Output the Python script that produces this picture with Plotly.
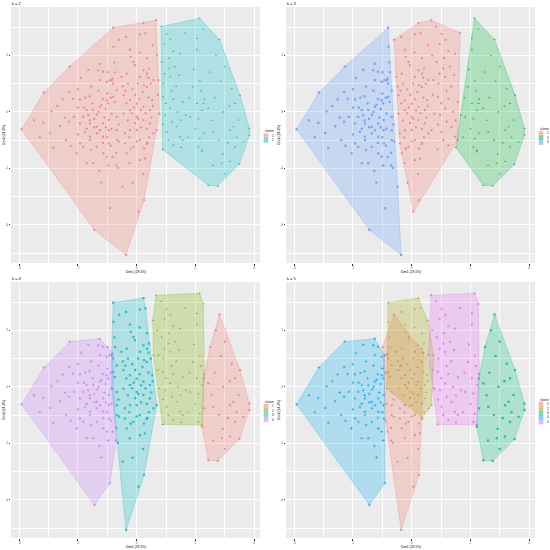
import plotly.graph_objects as go

W = 550

# Dim1 / Dim2 coordinates of the observations, grouped by the cluster labels they get
# for k = 2, 3, 4, 5 (label tuple given in group_labels)
grp_A = [(-3.92, -0.62), (-3.16, 0.68), (-2.28, 1.60), (-1.26, 1.70), (-0.93, 1.12), (-0.91, -3.41), (-1.44, -4.18),
         (-3.18, -0.39), (-2.90, 0.02), (-2.84, -1.27), (-2.61, -0.51), (-2.52, 0.44), (-2.18, 0.46), (-1.93, 0.44),
         (-2.14, -0.18), (-2.05, -1.47), (-1.93, -1.12), (-1.70, -1.82), (-1.48, -1.82), (-1.27, -2.09), (-1.65, -0.12),
         (-1.76, -0.71), (-1.59, -1.00), (-1.36, -1.24), (-1.14, -1.47), (-1.65, 1.49), (-1.31, 1.47), (-1.25, 1.12),
         (-1.02, 1.06), (-1.02, 0.41), (-1.25, 0.18), (-1.48, 0.06), (-1.70, 0.06), (-1.82, -0.18), (-1.93, -0.41),
         (-1.59, -0.41), (-1.36, -0.53), (-1.14, -0.41), (-0.95, -0.29), (-0.95, -1.12), (-1.14, -0.88), (-1.36, -0.76),
         (-1.02, -1.59), (-1.59, -0.88), (-1.82, -1.24), (-0.96, -0.65), (-1.50, 0.30), (-1.20, 0.25), (-1.05, 0.10),
         (-1.35, -0.10), (-1.10, -0.20), (-0.97, 0.30), (-1.60, -0.30), (-1.25, -0.65), (-1.00, -0.90), (-1.75, 0.50),
         (-2.00, 0.15), (-2.30, -0.35), (-2.40, -1.00), (-1.55, -1.35), (-1.15, -1.10), (-1.00, 0.65), (-1.30, 0.75),
         (-1.55, 0.90), (-1.90, 1.20), (-1.15, 1.42), (-0.97, -1.90), (-1.20, -2.50), (-3.50, -0.30), (-3.30, -0.90),
         (-2.95, -0.75), (-2.70, 0.20), (-2.45, -0.20), (-2.30, 0.70), (-2.00, 0.80), (-1.80, 0.15), (-1.60, 0.55),
         (-1.45, -0.25), (-1.30, 0.00), (-1.15, 0.45), (-1.05, -0.55), (-1.45, -0.55), (-1.70, -0.60), (-2.00, -0.80),
         (-2.25, -1.20)]
grp_A2 = [(-0.99, 1.40), (-0.82, 1.18), (-0.82, -1.59), (-0.70, -1.90), (-0.88, 0.50), (-0.86, -0.60), (-0.88, -1.20)]
grp_B = [(-0.36, -5.06), (-0.48, -2.65), (-0.85, 1.12), (-0.64, -1.98), (-0.60, -1.05), (-0.68, -0.65), (-0.68, -1.00),
         (-0.70, -1.45), (-0.62, -0.45), (-0.75, 0.35), (-0.80, 1.00)]
grp_C = [(-0.80, 2.98), (-0.85, -0.06), (-0.68, 0.76), (-0.80, 0.53), (-0.68, -0.18), (-0.79, 2.30), (-0.76, 1.75),
         (-0.74, 1.40)]
grp_D = [(-0.60, 2.55), (0.25, -3.12), (0.06, -3.53), (-0.14, -2.51), (0.34, -1.14), (0.40, 1.21), (-0.40, -1.12),
         (0.11, -1.00), (-0.11, -1.24), (-0.34, -1.47), (-0.40, -0.76), (-0.23, -0.65), (0.11, -1.71), (-0.24, -1.82),
         (-0.25, -0.90), (0.00, -1.05), (0.25, -1.30), (-0.20, -1.30), (0.28, -1.65), (0.22, -2.20), (-0.11, 1.76),
         (0.11, 1.24), (0.34, 0.88), (-0.23, 0.41), (0.23, 0.18), (-0.23, 0.06), (0.23, -0.29), (0.00, -0.65),
         (-0.30, 1.00), (0.20, 0.70), (-0.10, 0.15), (0.30, -0.05), (-0.05, -0.40), (0.35, -0.60), (-0.05, 0.60),
         (-0.38, 0.75), (-0.15, -0.05), (-0.52, 1.24)]
grp_E = [(0.23, 3.14), (-0.36, 2.65), (0.11, 2.74), (-0.23, 2.20), (0.30, 2.78), (0.68, -0.65), (0.36, -1.10),
         (-0.47, 0.90), (0.42, 1.53), (0.48, 1.00), (0.53, 0.41), (0.45, 0.06), (0.45, -0.41), (0.57, -0.76),
         (0.42, -0.90), (0.50, -0.20), (0.55, 0.20), (0.40, 0.50), (-0.34, 1.35), (0.23, 1.47), (-0.06, 1.65),
         (-0.45, 0.59), (0.00, 0.29), (0.00, -0.18), (-0.15, 0.80), (0.05, 1.00), (-0.35, 0.30), (0.10, 0.45),
         (-0.30, -0.30), (0.15, -0.55), (-0.20, 1.95), (0.10, 2.10), (0.35, 1.90), (0.25, 0.95), (0.05, -0.25),
         (0.15, 0.05), (0.35, 1.35), (-0.45, -0.06)]
grp_F = [(0.66, 3.24), (0.77, -0.06), (0.57, 1.12), (0.70, 2.00), (0.72, 0.60)]
grp_FF = [(0.55, 2.35), (0.74, 1.12)]
grp_G = [(0.83, 3.02), (0.88, -1.33), (1.65, 2.79), (1.57, -1.00), (1.02, 2.76), (0.85, 1.76), (1.08, 1.53),
         (1.25, 2.15), (1.48, 2.06), (1.14, 1.24), (0.91, 1.00), (1.19, 0.74), (1.57, 0.35), (1.14, 0.12),
         (0.89, 0.53), (0.97, -0.12), (1.08, -1.00), (1.48, -0.88), (1.25, -1.18), (1.36, -0.53), (1.02, -0.71),
         (0.95, 2.40), (1.10, 1.90), (1.30, 1.60), (1.45, 1.30), (1.00, 0.30), (1.25, 0.45), (1.40, 0.00),
         (1.20, -0.35), (0.90, -0.45), (1.50, -0.30), (1.35, 0.90), (0.95, 1.35), (1.15, 2.55)]
grp_H = [(2.14, 3.31), (2.27, 2.94), (1.51, -1.26), (1.67, -0.12), (2.22, -1.35), (2.30, 0.45), (1.91, 0.88),
         (1.82, -0.18), (2.10, -0.24), (2.10, -1.24), (2.22, 0.06), (2.19, 0.74), (2.05, 2.60), (2.05, 2.20),
         (1.95, 1.50), (2.15, 1.10), (1.80, 0.50), (2.00, -0.60), (1.75, -0.90), (2.15, -0.95), (2.05, 0.30)]
grp_I = [(2.82, 2.56), (3.52, 0.59), (3.84, -0.59), (3.84, -0.82), (3.50, -1.85), (2.76, -2.62), (2.44, -2.60),
         (2.22, -1.41), (2.28, 0.30), (2.50, 1.41), (2.86, 1.09), (3.24, 0.82), (3.16, 0.20), (2.61, -0.71),
         (3.18, -0.65), (3.47, -0.29), (3.64, -1.06), (3.35, -1.24), (2.93, -1.49), (2.90, -1.82), (3.18, -1.76),
         (3.30, -0.53), (2.44, 0.12), (2.30, -0.76), (2.70, 2.00), (3.00, 1.60), (2.65, 0.50), (2.95, 0.00),
         (3.35, 0.30), (2.55, -0.30), (2.80, -1.00), (3.10, -1.10), (3.40, -0.90), (2.60, -1.90), (3.00, -2.20)]

# cluster label of each group for k = 2, 3, 4, 5
group_labels = {
    "A": (1, 3, 4, 4), "A2": (1, 3, 4, 1), "B": (1, 3, 3, 1), "C": (1, 3, 3, 2),
    "D": (1, 1, 3, 1), "E": (1, 1, 3, 2), "F": (1, 1, 2, 5), "FF": (1, 1, 2, 2),
    "G": (2, 1, 2, 5), "H": (2, 2, 2, 5), "I": (2, 2, 1, 3),
}
groups = {"A": grp_A, "A2": grp_A2, "B": grp_B, "C": grp_C, "D": grp_D, "E": grp_E,
          "F": grp_F, "FF": grp_FF, "G": grp_G, "H": grp_H, "I": grp_I}

k_values = [2, 3, 4, 5]
panel_titles = ["k = 2", "k = 3", "k = 4", "k = 5"]
palettes = {
    2: ["#F8766D", "#00BFC4"],
    3: ["#F8766D", "#00BA38", "#619CFF"],
    4: ["#F8766D", "#7CAE00", "#00BFC4", "#C77CFF"],
    5: ["#F8766D", "#A3A500", "#00BF7D", "#00B0F6", "#E76BF3"],
}
symbols = ["circle", "triangle-up", "square", "cross", "x"]
x_ticks = [-4, -2, 0, 2, 4]
y_ticks = [-4, -2, 0, 2]
x_label = "Dim1 (29.1%)"
y_label = "Dim2 (14.3%)"


def rgba(hexc, a):
    h = hexc.lstrip("#")
    return f"rgba({int(h[0:2],16)},{int(h[2:4],16)},{int(h[4:6],16)},{a})"


def hull(pts):
    pts = sorted(set(pts))
    if len(pts) < 3:
        return pts

    def cross(o, a, b):
        return (a[0] - o[0]) * (b[1] - o[1]) - (a[1] - o[1]) * (b[0] - o[0])

    lower, upper = [], []
    for p in pts:
        while len(lower) >= 2 and cross(lower[-2], lower[-1], p) <= 0:
            lower.pop()
        lower.append(p)
    for p in reversed(pts):
        while len(upper) >= 2 and cross(upper[-2], upper[-1], p) <= 0:
            upper.pop()
        upper.append(p)
    return lower[:-1] + upper[:-1]


fig = go.Figure()
annotations = []
shapes = []
layout = {}
FONT = "Liberation Sans"

for i, k in enumerate(k_values):
    col, row = i % 2, i // 2
    ox, oy = col * 275, row * 275
    sfx = "" if i == 0 else str(i + 1)
    xref, yref = "x" + sfx, "y" + sfx
    cols = palettes[k]
    ki = k_values.index(k)

    clusters = {c: [] for c in range(1, k + 1)}
    for g, pts in groups.items():
        clusters[group_labels[g][ki]].extend(pts)

    # points
    for c in range(1, k + 1):
        pts = clusters[c]
        fig.add_trace(go.Scatter(
            x=[p[0] for p in pts], y=[p[1] for p in pts], mode="markers",
            marker=dict(color=cols[c - 1], size=2.2, opacity=0.85, symbol=symbols[c - 1], line=dict(width=0)),
            xaxis=xref, yaxis=yref, showlegend=False, hoverinfo="skip"))
    # convex hull frames
    for c in range(1, k + 1):
        h = hull(clusters[c])
        fig.add_trace(go.Scatter(
            x=[p[0] for p in h] + [h[0][0]], y=[p[1] for p in h] + [h[0][1]],
            mode="lines", fill="toself", fillcolor=rgba(cols[c - 1], 0.25),
            line=dict(color=rgba(cols[c - 1], 0.55), width=0.5),
            xaxis=xref, yaxis=yref, showlegend=False, hoverinfo="skip"))

    axis_common = dict(showline=False, zeroline=False, gridcolor="white", gridwidth=0.7,
                       ticks="outside", ticklen=1.5, tickwidth=0.4, tickcolor="#333333",
                       tickfont=dict(size=3, color="#4D4D4D", family=FONT))
    layout["xaxis" + sfx] = dict(
        domain=[(ox + 11) / W, (ox + 260) / W], range=[-4.28, 4.20], anchor=yref,
        tickmode="array", tickvals=x_ticks, ticktext=[str(v) for v in x_ticks],
        minor=dict(tickvals=[-3, -1, 1, 3], showgrid=True, gridcolor="white", gridwidth=0.35, ticks=""),
        **axis_common)
    layout["yaxis" + sfx] = dict(
        domain=[1 - (oy + 263) / W, 1 - (oy + 7) / W], range=[-5.35, 3.71], anchor=xref,
        tickmode="array", tickvals=y_ticks, ticktext=[str(v) for v in y_ticks],
        minor=dict(tickvals=[-5, -3, -1, 1, 3], showgrid=True, gridcolor="white", gridwidth=0.35, ticks=""),
        **axis_common)

    # panel title
    annotations.append(dict(text=panel_titles[i], x=(ox + 10) / W, y=1 - (oy + 3) / W,
                            xref="paper", yref="paper", xanchor="left", yanchor="middle",
                            showarrow=False, font=dict(size=4, color="black", family=FONT)))
    # axis titles
    annotations.append(dict(text=x_label, x=(ox + 135.5) / W, y=1 - (oy + 271.5) / W,
                            xref="paper", yref="paper", xanchor="center", yanchor="middle",
                            showarrow=False, font=dict(size=3.3, color="black", family=FONT)))
    annotations.append(dict(text=y_label, x=(ox + 4) / W, y=1 - (oy + 135) / W, textangle=-90,
                            xref="paper", yref="paper", xanchor="center", yanchor="middle",
                            showarrow=False, font=dict(size=3.3, color="black", family=FONT)))
    # legend
    step = 4.5
    first = oy + 138 - step * (k - 1) / 2
    annotations.append(dict(text="cluster", x=(ox + 263) / W, y=1 - (first - 4.5) / W,
                            xref="paper", yref="paper", xanchor="left", yanchor="middle",
                            showarrow=False, font=dict(size=3, color="black", family=FONT)))
    for c in range(1, k + 1):
        cy = first + step * (c - 1)
        shapes.append(dict(type="rect", xref="paper", yref="paper",
                           x0=(ox + 264) / W, x1=(ox + 268) / W,
                           y0=1 - (cy + 2) / W, y1=1 - (cy - 2) / W,
                           fillcolor=rgba(cols[c - 1], 0.35), line=dict(color=cols[c - 1], width=0.4)))
        shapes.append(dict(type="circle", xref="paper", yref="paper",
                           x0=(ox + 265.3) / W, x1=(ox + 266.7) / W,
                           y0=1 - (cy + 0.7) / W, y1=1 - (cy - 0.7) / W,
                           fillcolor=cols[c - 1], line=dict(width=0)))
        annotations.append(dict(text=str(c), x=(ox + 269.5) / W, y=1 - cy / W,
                                xref="paper", yref="paper", xanchor="left", yanchor="middle",
                                showarrow=False, font=dict(size=3, color="black", family=FONT)))

fig.update_layout(
    width=W, height=W, margin=dict(l=0, r=0, t=0, b=0),
    paper_bgcolor="white", plot_bgcolor="#EBEBEB",
    annotations=annotations, shapes=shapes, showlegend=False, **layout)

fig.write_html("out.html", config={"displayModeBar": False},
               post_script="document.body.style.margin='0px';document.body.style.padding='0px';")
